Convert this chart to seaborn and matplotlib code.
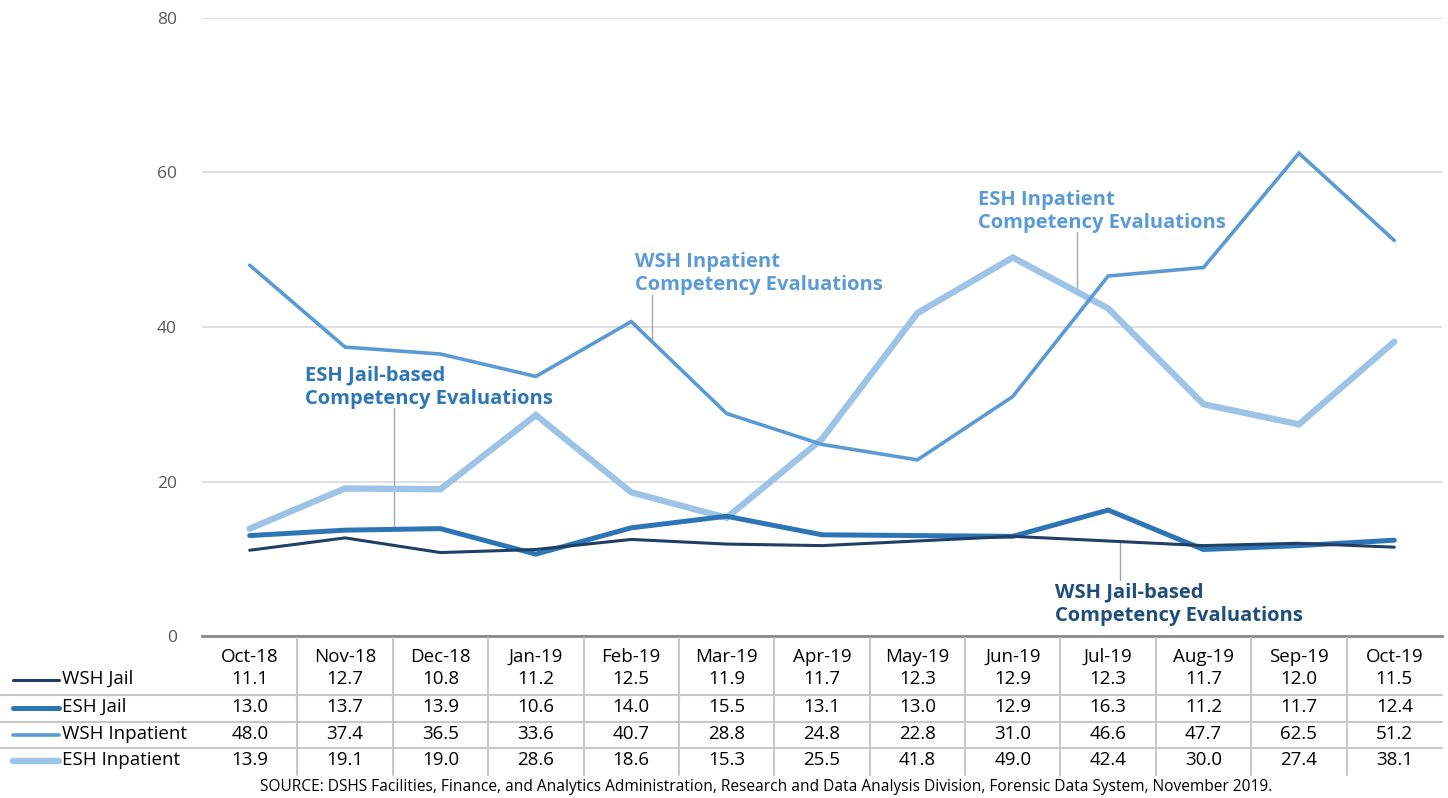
import matplotlib
matplotlib.use("Agg")
import matplotlib.pyplot as plt
import matplotlib.transforms as mtransforms
import seaborn as sns
import pandas as pd

months = ["Oct-18", "Nov-18", "Dec-18", "Jan-19", "Feb-19", "Mar-19", "Apr-19",
          "May-19", "Jun-19", "Jul-19", "Aug-19", "Sep-19", "Oct-19"]
wsh_jail = [11.1, 12.7, 10.8, 11.2, 12.5, 11.9, 11.7, 12.3, 12.9, 12.3, 11.7, 12.0, 11.5]
esh_jail = [13.0, 13.7, 13.9, 10.6, 14.0, 15.5, 13.1, 13.0, 12.9, 16.3, 11.2, 11.7, 12.4]
wsh_inpatient = [48.0, 37.4, 36.5, 33.6, 40.7, 28.8, 24.8, 22.8, 31.0, 46.6, 47.7, 62.5, 51.2]
esh_inpatient = [13.9, 19.1, 19.0, 28.6, 18.6, 15.3, 25.5, 41.8, 49.0, 42.4, 30.0, 27.4, 38.1]
series_names = ["WSH Jail", "ESH Jail", "WSH Inpatient", "ESH Inpatient"]

colors = ["#1F3F66", "#2E75B6", "#5B9BD5", "#9DC3E6"]
widths = [2.2, 3.6, 2.6, 4.6]

df = pd.DataFrame({"month": months, "pos": range(len(months)),
                   "WSH Jail": wsh_jail, "ESH Jail": esh_jail,
                   "WSH Inpatient": wsh_inpatient, "ESH Inpatient": esh_inpatient})

W, H = 1448, 798
fig = plt.figure(figsize=(W / 100, H / 100), dpi=100)
sns.set_style("white")
plt.rcParams['font.family'] = ['Open Sans', 'DejaVu Sans']

def px(x0, y_top, w, h):
    return [x0 / W, 1 - (y_top + h) / H, w / W, h / H]

ax = fig.add_axes(px(202, 18, 1240, 618))

# draw the lines, lightest first so the darker ones sit on top
for name, c, lw in reversed(list(zip(series_names, colors, widths))):
    sns.lineplot(data=df, x="pos", y=name, color=c, linewidth=lw, ax=ax,
                 solid_joinstyle="miter")

ax.set_xlim(-0.5, len(months) - 0.5)
ax.set_ylim(0, 80)
ax.set_yticks([0, 20, 40, 60, 80])
ax.yaxis.grid(True, color="#D9D9D9", linewidth=1.2)
ax.set_xticks([])
ax.set_xlabel("")
ax.set_ylabel("")
for s in ["top", "right", "left"]:
    ax.spines[s].set_visible(False)
ax.spines["bottom"].set_color("#898989")
ax.spines["bottom"].set_linewidth(2)
ax.tick_params(axis="y", length=0, pad=18, labelsize=12.5, labelcolor="#595959")

# annotations with leader lines
ann = [
    ("WSH Inpatient\nCompetency Evaluations", 4.04, 49.7, "#5B9BD5", 4.22, 44.1, 38.3),
    ("ESH Inpatient\nCompetency Evaluations", 7.64, 57.7, "#5B9BD5", 8.67, 52.3, 44.8),
    ("ESH Jail-based\nCompetency Evaluations", 0.58, 35.0, "#2E75B6", 1.51, 29.5, 13.8),
    ("WSH Jail-based\nCompetency Evaluations", 8.44, 6.9, "#1F4E79", 9.12, 12.3, 7.3),
]
for txt, tx, ty, c, lx, ly0, ly1 in ann:
    ax.text(tx, ty, txt, color=c, fontsize=14.5, fontweight="bold",
            ha="left", va="top", linespacing=1.2)
    ax.plot([lx, lx], [ly0, ly1], color="#A6A6A6", linewidth=1, zorder=1)

# data table underneath
tr = mtransforms.blended_transform_factory(ax.transData, fig.transFigure)
fy = lambda y: 1 - y / H
header_y = 657
row_y = [679, 707, 734, 760]
for i, m in enumerate(months):
    fig.text(i, fy(header_y), m, transform=tr, ha="center", va="center",
             fontsize=13.5, color="#000000")
for r, name in enumerate(series_names):
    vals = df[name]
    for i, v in enumerate(vals):
        fig.text(i, fy(row_y[r]), f"{v:.1f}", transform=tr, ha="center",
                 va="center", fontsize=13.5, color="#000000")
    fig.lines.append(plt.Line2D([13 / W, 59 / W], [fy(row_y[r] + 1)] * 2,
                                transform=fig.transFigure, color=colors[r],
                                linewidth=widths[r], solid_capstyle="round"))
    fig.text(62 / W, fy(row_y[r]), name, ha="left", va="center",
             fontsize=13.5, color="#000000")

# table grid
for yl in [695, 722, 748]:
    fig.lines.append(plt.Line2D([0, 1442 / W], [fy(yl)] * 2, transform=fig.transFigure,
                                color="#C8C8C8", linewidth=1.5))
for i in range(1, len(months)):
    fig.lines.append(plt.Line2D([i - 0.5, i - 0.5], [fy(638), fy(775)], transform=tr,
                                color="#C8C8C8", linewidth=1.5))

fig.text(766 / W, fy(787), "SOURCE: DSHS Facilities, Finance, and Analytics Administration, "
         "Research and Data Analysis Division, Forensic Data System, November 2019.",
         ha="center", va="center", fontsize=11.2, color="#000000")

fig.savefig("out.png", dpi=100)
